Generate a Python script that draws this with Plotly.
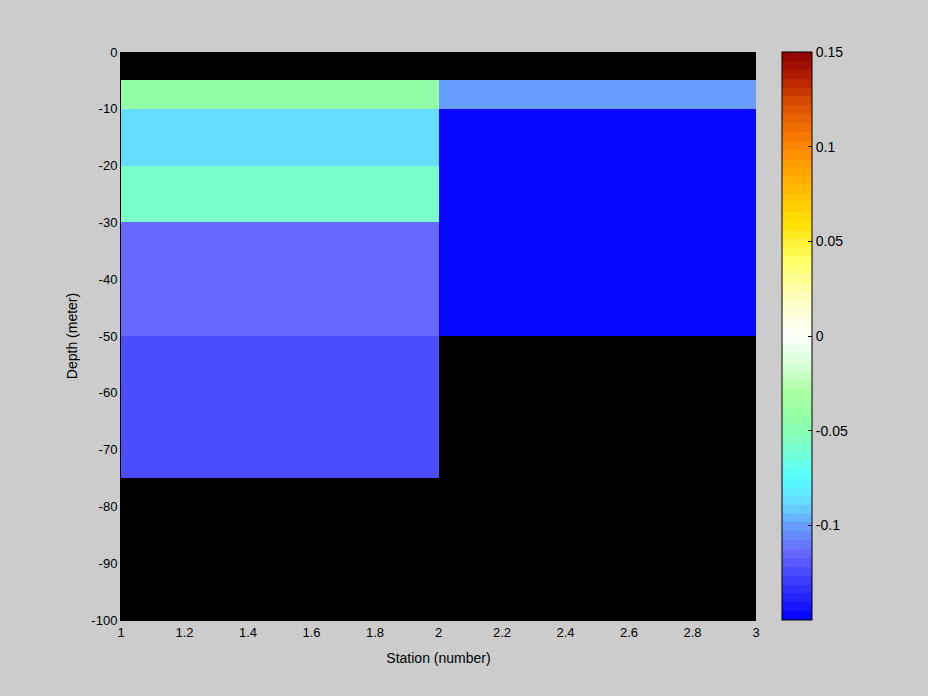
import plotly.graph_objects as go

# Data
station_edges = [1, 2, 3]
depth_edges = [0, -5, -10, -20, -30, -50, -75, -100]
# rows: depth layers (top to bottom), cols: station 1..2, 2..3
values = [
    [None, None],
    [-0.045, -0.100],
    [-0.088, -0.150],
    [-0.060, -0.150],
    [-0.115, -0.150],
    [-0.125, None],
    [None, None],
]
cbar_tickvals = [-0.1, -0.05, 0, 0.05, 0.1, 0.15]
cbar_ticktext = ["-0.1", "-0.05", "0", "0.05", "0.1", "0.15"]
xtick_vals = [1, 1.2, 1.4, 1.6, 1.8, 2, 2.2, 2.4, 2.6, 2.8, 3]
xtick_text = ["1", "1.2", "1.4", "1.6", "1.8", "2", "2.2", "2.4", "2.6", "2.8", "3"]
ytick_vals = [0, -10, -20, -30, -40, -50, -60, -70, -80, -90, -100]
ytick_text = ["0", "-10", "-20", "-30", "-40", "-50", "-60", "-70", "-80", "-90", "-100"]
zmin, zmax = -0.15, 0.15

# colormap anchors (value, rgb)
anchors = [
    (-0.150, (0, 0, 255)),
    (-0.125, (74, 74, 255)),
    (-0.115, (102, 102, 255)),
    (-0.100, (102, 160, 255)),
    (-0.088, (102, 217, 255)),
    (-0.075, (85, 255, 255)),
    (-0.060, (119, 255, 208)),
    (-0.045, (143, 255, 168)),
    (-0.030, (170, 255, 160)),
    (-0.015, (215, 255, 215)),
    (0.000, (250, 255, 250)),
    (0.020, (255, 255, 190)),
    (0.040, (255, 255, 100)),
    (0.060, (255, 225, 0)),
    (0.080, (255, 180, 0)),
    (0.100, (255, 135, 0)),
    (0.120, (225, 85, 0)),
    (0.135, (185, 35, 0)),
    (0.150, (139, 0, 0)),
]

def interp(v):
    for (v0, c0), (v1, c1) in zip(anchors[:-1], anchors[1:]):
        if v0 <= v <= v1:
            t = (v - v0) / (v1 - v0) if v1 > v0 else 0
            return tuple(int(round(a + (b - a) * t)) for a, b in zip(c0, c1))
    return anchors[-1][1] if v > anchors[-1][0] else anchors[0][1]

n = 64
cs = []
for i in range(n):
    vmid = zmin + (i + 0.5) * (zmax - zmin) / n
    col = "rgb(%d,%d,%d)" % interp(vmid)
    cs.append([i / n, col])
    cs.append([(i + 1) / n, col])

fig = go.Figure()
fig.add_trace(go.Heatmap(
    x=station_edges, y=depth_edges, z=values,
    zmin=zmin, zmax=zmax, colorscale=cs, zsmooth=False, hoverongaps=False,
    colorbar=dict(
        x=(782 - 121) / 635, xanchor="left", xref="paper",
        y=0.5, yanchor="middle", len=1, lenmode="fraction",
        thickness=30, thicknessmode="pixels",
        outlinecolor="black", outlinewidth=1,
        tickvals=cbar_tickvals, ticktext=cbar_ticktext,
        ticks="inside", ticklen=4, tickcolor="black",
        tickfont=dict(family="Liberation Sans, Arial", size=14, color="black"),
        xpad=0, ypad=0,
    ),
))

fig.update_layout(
    width=928, height=696,
    paper_bgcolor="#CCCCCC", plot_bgcolor="black",
    margin=dict(l=121, r=172, t=52, b=76),
    font=dict(family="Liberation Sans, Arial", size=12, color="black"),
    xaxis=dict(range=[1, 3], tickvals=xtick_vals, ticktext=xtick_text,
               showgrid=False, zeroline=False, ticks="", showline=True,
               linecolor="black", mirror=False,
               title=dict(text="Station (number)", standoff=14),
               tickfont=dict(size=13)),
    yaxis=dict(range=[-100, 0], tickvals=ytick_vals, ticktext=ytick_text,
               showgrid=False, zeroline=False, ticks="", showline=True,
               linecolor="black",
               title=dict(text="Depth (meter)", standoff=10),
               tickfont=dict(size=13)),
)

fig.write_html(
    "out.html",
    config={"displayModeBar": False},
    post_script="document.body.style.margin='0';document.body.style.background='#CCCCCC';",
)
